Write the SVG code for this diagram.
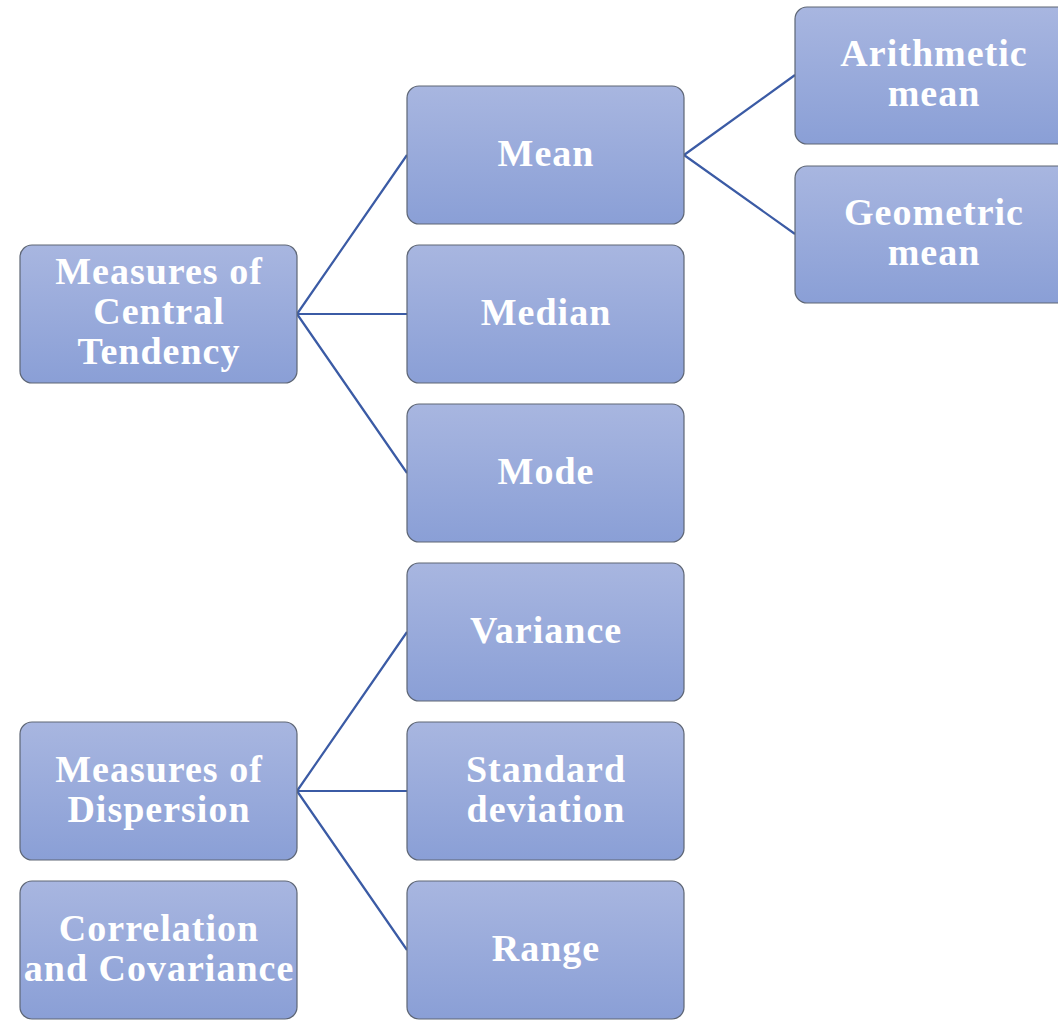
<svg xmlns="http://www.w3.org/2000/svg" width="1058" height="1020" viewBox="0 0 1058 1020">
<defs>
<linearGradient id="g" x1="0" y1="0" x2="0" y2="1">
<stop offset="0" stop-color="#A8B6E0"/>
<stop offset="1" stop-color="#8A9FD6"/>
</linearGradient>
<style>
.box{fill:url(#g);stroke:#5E6675;stroke-width:1.2}
.t{font-family:"Liberation Serif","DejaVu Serif",serif;font-weight:bold;font-size:38px;letter-spacing:1px;fill:#FFFFFF;text-anchor:middle}
.c{stroke:#3B5BA5;stroke-width:2.2;fill:none}
</style>
</defs>
<rect width="1058" height="1020" fill="#FFFFFF"/>
<g id="connectors">
<path class="c" d="M297,314 L407,155 M297,314 L407,314 M297,314 L407,473"/>
<path class="c" d="M684,155 L795,75 M684,155 L795,234"/>
<path class="c" d="M297,791 L407,632 M297,791 L407,791 M297,791 L407,950"/>
</g>
<g id="central">
<rect class="box" x="20" y="245" width="277" height="138" rx="12"/>
<text class="t" x="159" y="284">Measures of</text>
<text class="t" x="159" y="324">Central</text>
<text class="t" x="159" y="364">Tendency</text>
</g>
<g id="mean">
<rect class="box" x="407" y="86" width="277" height="138" rx="12"/>
<text class="t" x="546" y="166">Mean</text>
</g>
<g id="median">
<rect class="box" x="407" y="245" width="277" height="138" rx="12"/>
<text class="t" x="546" y="325">Median</text>
</g>
<g id="mode">
<rect class="box" x="407" y="404" width="277" height="138" rx="12"/>
<text class="t" x="546" y="484">Mode</text>
</g>
<g id="arith">
<rect class="box" x="795" y="7" width="277" height="137" rx="12"/>
<text class="t" x="934" y="66">Arithmetic</text>
<text class="t" x="934" y="106">mean</text>
</g>
<g id="geom">
<rect class="box" x="795" y="166" width="277" height="137" rx="12"/>
<text class="t" x="934" y="225">Geometric</text>
<text class="t" x="934" y="265">mean</text>
</g>
<g id="dispersion">
<rect class="box" x="20" y="722" width="277" height="138" rx="12"/>
<text class="t" x="159" y="782">Measures of</text>
<text class="t" x="159" y="822">Dispersion</text>
</g>
<g id="correlation">
<rect class="box" x="20" y="881" width="277" height="138" rx="12"/>
<text class="t" x="159" y="941">Correlation</text>
<text class="t" x="159" y="981">and Covariance</text>
</g>
<g id="variance">
<rect class="box" x="407" y="563" width="277" height="138" rx="12"/>
<text class="t" x="546" y="643">Variance</text>
</g>
<g id="stddev">
<rect class="box" x="407" y="722" width="277" height="138" rx="12"/>
<text class="t" x="546" y="782">Standard</text>
<text class="t" x="546" y="822">deviation</text>
</g>
<g id="range">
<rect class="box" x="407" y="881" width="277" height="138" rx="12"/>
<text class="t" x="546" y="961">Range</text>
</g>
</svg>
